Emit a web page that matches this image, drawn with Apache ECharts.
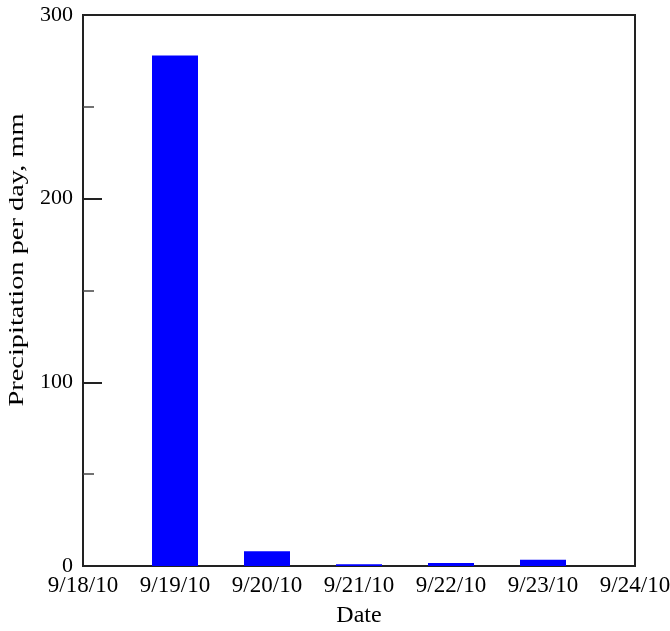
<!DOCTYPE html>
<html>
<head>
<meta charset="utf-8">
<script src="https://cdn.jsdelivr.net/npm/echarts@6/dist/echarts.min.js"></script>
<style>
  html, body { margin: 0; padding: 0; background: #fff; }
  #chart { width: 670px; height: 631px; }
</style>
</head>
<body>
<div id="chart"></div>
<script>
// days on the x axis (first and last are only axis ends)
const dates = ["9/18/10", "9/19/10", "9/20/10", "9/21/10", "9/22/10", "9/23/10", "9/24/10"];
// daily precipitation, mm
const precip = [null, 278, 8, 1, 1.7, 3.4, null];
const yTicks = [0, 100, 200, 300];

const font = "'Liberation Serif', 'DejaVu Serif', serif";
const chart = echarts.init(document.getElementById("chart"));

const option = {
  animation: false,
  backgroundColor: "#fff",
  grid: {
    left: 83,
    right: 35,
    top: 15,
    bottom: 65,
    outerBoundsMode: "none",
    show: true,
    borderColor: "#222",
    borderWidth: 2,
  },
  // y axis title is stretched along its length in the original
  graphic: [
    {
      type: "text",
      x: 18,
      y: 260,
      rotation: Math.PI / 2,
      scaleX: 1.42,
      style: {
        text: "Precipitation per day, mm",
        font: "20px " + font,
        fill: "#000",
        align: "center",
        verticalAlign: "middle",
      },
    },
  ],
  xAxis: {
    type: "category",
    data: dates,
    boundaryGap: false,
    name: "Date",
    nameLocation: "middle",
    nameGap: 38,
    nameTextStyle: { fontFamily: font, fontSize: 24, color: "#000" },
    axisLine: { lineStyle: { color: "#222", width: 2 } },
    axisTick: { show: false },
    axisLabel: {
      fontFamily: font,
      fontSize: 23,
      color: "#000",
      margin: 8,
      interval: 0,
    },
    splitLine: { show: false },
  },
  yAxis: {
    type: "value",
    min: yTicks[0],
    max: yTicks[yTicks.length - 1],
    interval: 100,
    axisLine: { show: true, lineStyle: { color: "#222", width: 2 } },
    axisTick: { show: true, inside: true, length: 19, lineStyle: { color: "#222", width: 2 } },
    minorTick: { show: true, splitNumber: 2, length: 11, lineStyle: { color: "#444", width: 1.5 } },
    axisLabel: { fontFamily: font, fontSize: 22, color: "#000", margin: 10 },
    splitLine: { show: false },
  },
  series: [
    {
      type: "bar",
      data: precip,
      barWidth: 46,
      itemStyle: { color: "#0000ff" },
    },
  ],
};

chart.setOption(option);
</script>
</body>
</html>
